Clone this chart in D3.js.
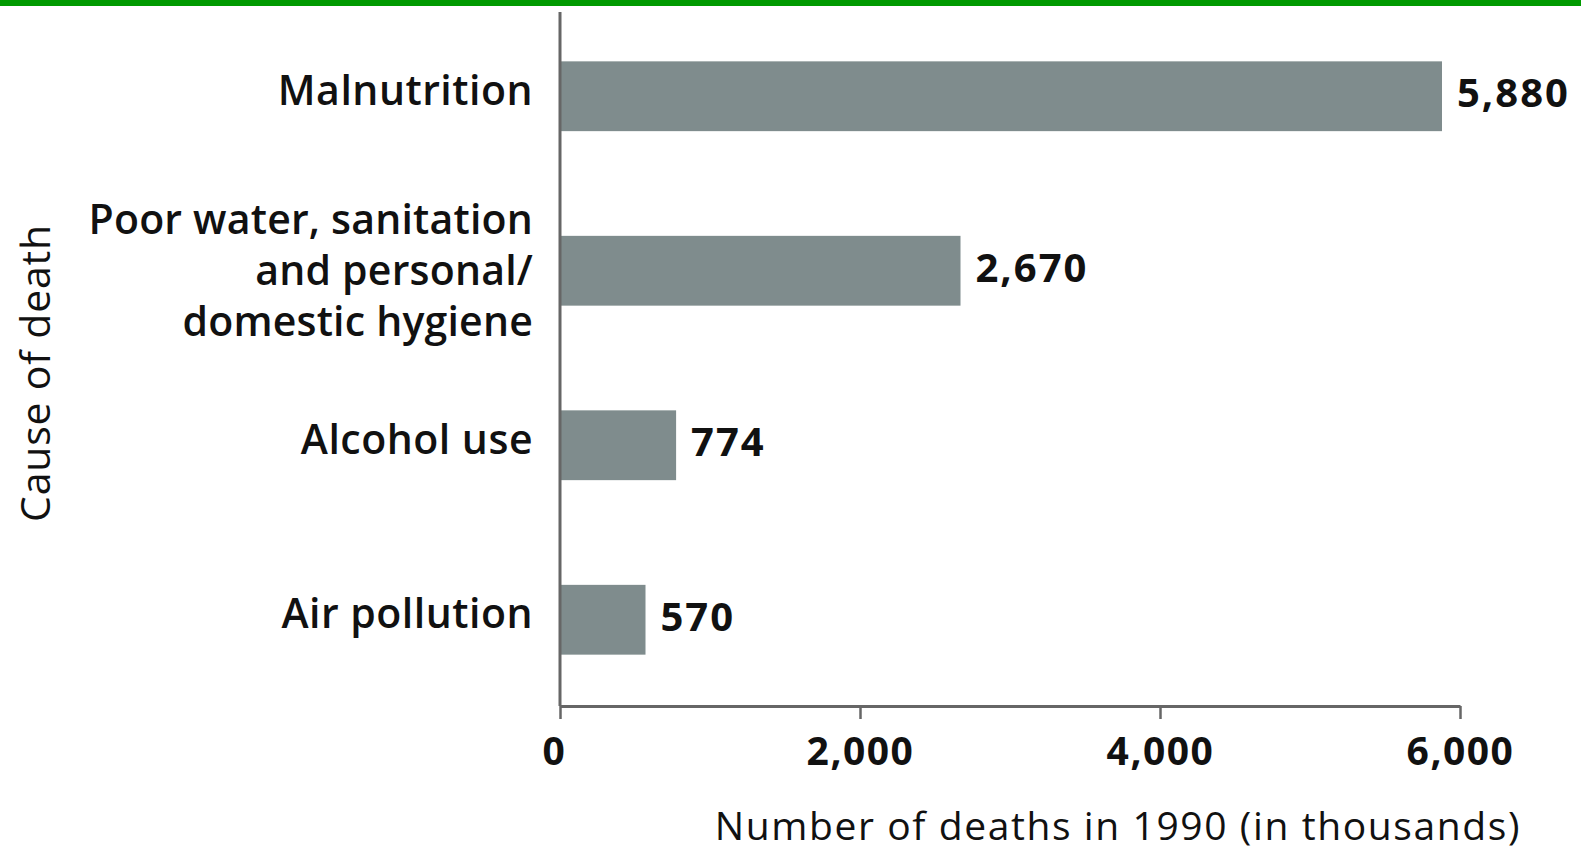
<!DOCTYPE html>
<html>
<head>
<meta charset="utf-8">
<script src="https://cdn.jsdelivr.net/npm/d3@7"></script>
<style>
  html, body { margin: 0; padding: 0; background: #ffffff; }
  svg { display: block; }
  text { font-family: "Open Sans", "Noto Sans", sans-serif; fill: #111; }
</style>
</head>
<body>
<svg id="chart" width="1581" height="852"></svg>
<script>
// Causes of death (lines of each label) and deaths in 1990, in thousands
const categories = [
  ["Malnutrition"],
  ["Poor water, sanitation", "and personal/", "domestic hygiene"],
  ["Alcohol use"],
  ["Air pollution"]
];
const deaths = [5880, 2670, 774, 570];
const xTicks = [0, 2000, 4000, 6000];
const xTitle = "Number of deaths in 1990 (in thousands)";
const yTitle = "Cause of death";

const svg = d3.select("#chart");
const W = 1581, H = 852;

const keys = categories.map(c => c.join(" "));
const fmt = d3.format(",");

const x = d3.scaleLinear().domain([0, 6000]).range([560, 1460]);
const y = d3.scaleBand().domain(keys).range([9, 707]).paddingInner(0.6).paddingOuter(0.3);

// green rule across the top
svg.append("rect").attr("x", 0).attr("y", 0).attr("width", W).attr("height", 6).attr("fill", "#009a00");

// bars
svg.append("g").selectAll("rect")
  .data(deaths)
  .join("rect")
  .attr("x", x(0))
  .attr("y", (d, i) => y(keys[i]))
  .attr("width", d => x(d) - x(0))
  .attr("height", y.bandwidth())
  .attr("fill", "#7f8c8d");

// value labels
svg.append("g").selectAll("text")
  .data(deaths)
  .join("text")
  .attr("x", d => x(d) + 15)
  .attr("y", (d, i) => y(keys[i]) + y.bandwidth() / 2 - 3)
  .attr("dy", "0.35em")
  .attr("font-size", 40)
  .attr("font-weight", 700)
  .attr("letter-spacing", 2)
  .text(d => fmt(d));

// category labels, right aligned against the axis
const lineH = 51;
const catG = svg.append("g");
categories.forEach((lines, i) => {
  const cy = y(keys[i]) + y.bandwidth() / 2 + (lines.length > 1 ? 0 : -6);
  const t = catG.append("text")
    .attr("text-anchor", "end")
    .attr("font-size", 41)
    .attr("font-weight", 600)
    .attr("letter-spacing", lines.length > 1 ? 0.2 : 0.5);
  lines.forEach((ln, j) => {
    t.append("tspan")
      .attr("x", 533)
      .attr("y", cy + (j - (lines.length - 1) / 2) * lineH)
      .attr("dy", "0.35em")
      .text(ln);
  });
});

// x axis
const xAxis = svg.append("g")
  .attr("transform", `translate(0,706)`)
  .call(d3.axisBottom(x).tickValues(xTicks).tickFormat(fmt).tickSize(13).tickSizeOuter(0));
xAxis.select(".domain").attr("stroke", "#666").attr("stroke-width", 3);
xAxis.selectAll(".tick line").attr("stroke", "#666").attr("stroke-width", 2.5);
xAxis.selectAll(".tick text")
  .attr("font-family", "\"Open Sans\", sans-serif")
  .attr("font-size", 39)
  .attr("font-weight", 700)
  .attr("letter-spacing", 1.5)
  .attr("fill", "#111")
  .attr("y", 45)
  .attr("dy", "0.35em");
xAxis.selectAll(".tick").filter(d => d === 0).select("text").attr("dx", -6);

// y axis line
svg.append("line")
  .attr("x1", x(0)).attr("x2", x(0))
  .attr("y1", 12).attr("y2", 706)
  .attr("stroke", "#666").attr("stroke-width", 3);

// axis titles
svg.append("text")
  .attr("x", 1521).attr("y", 826).attr("dy", "0.35em")
  .attr("text-anchor", "end")
  .attr("font-size", 39)
  .attr("letter-spacing", 1.6)
  .text(xTitle);

svg.append("text")
  .attr("transform", "translate(36,373) rotate(-90)")
  .attr("dy", "0.35em")
  .attr("text-anchor", "middle")
  .attr("font-size", 41)
  .attr("letter-spacing", 0.8)
  .text(yTitle);
</script>
</body>
</html>
